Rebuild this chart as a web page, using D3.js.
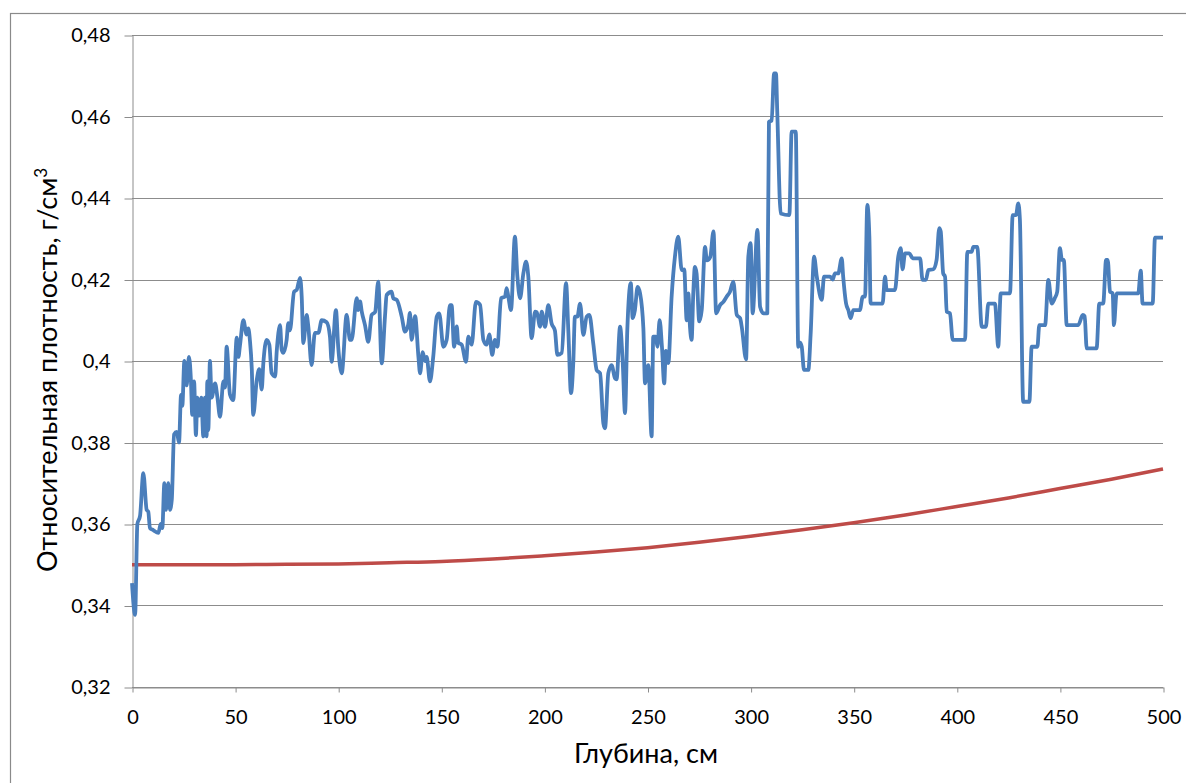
<!DOCTYPE html>
<html>
<head>
<meta charset="utf-8">
<script src="https://cdn.jsdelivr.net/npm/d3@7"></script>
<style>
  body { margin: 0; background: #fff; }
  svg { display: block; }
  text { font-family: Lato, "Open Sans", sans-serif; fill: #000; }
</style>
</head>
<body>
<svg width="1186" height="783"></svg>
<script>
// measured relative density (depth cm, g/cm3)
var measured = [
  [0,0.3455],[1.5,0.3377],[2.6,0.360],[3.9,0.362],[5.5,0.3725],[7.1,0.3635],[7.9,0.363],[8.7,0.359],
  [10.3,0.3585],[12.8,0.3578],[13.9,0.360],[14.7,0.359],[15.7,0.370],[16.5,0.3635],[17.6,0.370],[18.4,0.3635],
  [19.3,0.366],[20.4,0.382],[21.7,0.3826],[22.8,0.380],[23.8,0.3917],[24.4,0.389],[25.4,0.400],[26.5,0.394],
  [27.6,0.401],[28.6,0.395],[29.2,0.3868],[30.1,0.395],[31.0,0.3818],[31.7,0.391],[32.6,0.3866],[33.6,0.391],
  [34.6,0.3815],[35.4,0.391],[36.2,0.3815],[36.5,0.395],[37.0,0.383],[37.8,0.400],[38.6,0.391],[40.3,0.3945],
  [41.4,0.3912],[42.7,0.3863],[44.3,0.395],[45.1,0.3935],[45.9,0.4035],[47.5,0.3918],[49.1,0.3904],
  [50.8,0.4057],[51.6,0.401],[52.4,0.404],[54.0,0.410],[55.6,0.4065],[56.4,0.408],[57.2,0.405],[58.1,0.398],
  [58.8,0.3868],[60.5,0.3953],[61.7,0.398],[62.9,0.393],[63.7,0.3995],[65.3,0.4052],[66.6,0.404],[67.7,0.397],
  [69.4,0.3962],[70.2,0.4025],[71.8,0.4088],[72.6,0.4027],[73.4,0.402],[75.0,0.4052],[75.8,0.4093],[76.6,0.4075],
  [78.6,0.417],[79.9,0.4175],[81.5,0.4204],[82.3,0.4158],[83.1,0.4044],[84.7,0.4113],[85.5,0.4085],[87.1,0.399],
  [88.7,0.4069],[90.4,0.4069],[92.0,0.410],[94.4,0.4095],[96.0,0.406],[96.8,0.3998],[98.9,0.4125],[100.0,0.4035],
  [101.7,0.397],[104.1,0.4113],[105.7,0.4052],[106.5,0.4052],[109.0,0.4154],[109.7,0.4125],[110.6,0.4146],[111.4,0.4122],
  [113.0,0.4088],[114.6,0.4047],[116.2,0.4113],[117.9,0.412],[119.4,0.4195],[121.1,0.3994],[122.7,0.411],[123.5,0.4162],
  [125.9,0.417],[126.7,0.4154],[128.4,0.415],[130.8,0.4109],[132.4,0.4072],[134.0,0.409],[134.8,0.4118],[135.6,0.4052],
  [137.3,0.411],[138.9,0.4011],[139.7,0.397],[141.0,0.4022],[142.1,0.400],[142.9,0.401],[144.5,0.395],[146.1,0.4011],
  [147.8,0.4109],[149.0,0.4117],[151.0,0.4035],[152.6,0.4052],[154.2,0.4137],[155.0,0.4137],[156.2,0.4035],[157.5,0.4085],
  [158.2,0.4045],[159.9,0.404],[162.0,0.3998],[163.1,0.406],[164.7,0.404],[166.8,0.4145],[168.8,0.4138],[170.4,0.4052],
  [172.0,0.404],[173.3,0.4065],[174.7,0.4015],[176.0,0.4052],[177.2,0.4035],[179.0,0.4154],[180.9,0.4158],[181.7,0.4179],
  [182.5,0.4158],[183.8,0.4125],[185.7,0.4305],[186.9,0.4207],[188.2,0.4154],[189.8,0.4215],[191.1,0.4244],[192.2,0.4207],
  [193.8,0.4056],[195.5,0.4121],[196.3,0.412],[197.9,0.4084],[198.7,0.4121],[200.3,0.4084],[201.9,0.4137],[203.5,0.4092],
  [205.1,0.4075],[206.3,0.4015],[208.4,0.402],[210.5,0.4191],[211.6,0.4075],[212.9,0.3921],[214.0,0.3995],[214.8,0.4109],
  [216.0,0.4109],[217.3,0.4141],[218.9,0.4064],[220.5,0.4109],[221.8,0.4113],[223.7,0.4043],[225.4,0.3977],[227.0,0.397],
  [228.6,0.3847],[229.4,0.3835],[231.0,0.397],[232.6,0.399],[234.2,0.3958],[235.0,0.3955],[236.7,0.4084],[238.0,0.3995],
  [239.1,0.3872],[240.2,0.4075],[241.9,0.4191],[242.8,0.4105],[243.9,0.4125],[245.2,0.4182],[246.4,0.4166],[248.0,0.408],
  [248.8,0.3945],[250.4,0.399],[252.0,0.3815],[252.8,0.406],[254.0,0.406],[254.8,0.4035],[255.9,0.410],[257.0,0.4035],
  [258.1,0.3945],[258.9,0.4025],[260.1,0.3995],[261.7,0.4158],[263.3,0.4256],[264.9,0.4305],[266.6,0.4223],[267.8,0.4225],
  [269.0,0.410],[269.8,0.4166],[270.6,0.4084],[271.4,0.4052],[272.2,0.4166],[273.0,0.4231],[273.8,0.4215],[275.1,0.4097],
  [276.3,0.4125],[277.9,0.428],[278.8,0.4247],[280.4,0.4255],[282.0,0.4318],[283.3,0.4117],[285.2,0.4137],[286.8,0.4145],
  [288.4,0.4158],[290.0,0.417],[291.6,0.4195],[293.3,0.4113],[294.9,0.4105],[295.7,0.4084],[297.8,0.4004],[298.9,0.4256],
  [300.0,0.4289],[301.0,0.4117],[303.3,0.4322],[304.6,0.4133],[306.2,0.4117],[308.1,0.4117],[308.9,0.4587],[310.2,0.459],
  [311.4,0.4706],[312.3,0.4706],[312.9,0.4616],[314.6,0.4362],[318.8,0.4358],[319.9,0.4563],[321.9,0.4563],[323.1,0.4035],
  [324.0,0.4045],[324.8,0.4035],[325.9,0.3978],[328.0,0.3978],[329.1,0.4064],[330.8,0.4256],[332.1,0.4207],[334.5,0.415],
  [335.6,0.4207],[338.5,0.4207],[339.8,0.420],[340.9,0.4215],[342.5,0.4215],[344.2,0.4252],[344.9,0.4207],[346.3,0.4141],
  [347.4,0.4125],[348.5,0.4105],[349.8,0.4125],[353.0,0.4125],[354.4,0.4158],[355.5,0.4158],[356.6,0.4383],[357.6,0.4305],
  [358.2,0.4141],[364.0,0.4141],[365.2,0.4207],[366.0,0.4174],[370.0,0.4174],[371.6,0.4256],[372.8,0.4277],[373.7,0.4225],
  [374.9,0.4264],[377.0,0.4264],[378.6,0.4252],[382.2,0.4252],[383.4,0.4199],[385.0,0.4199],[386.2,0.4223],[388.6,0.4225],
  [390.2,0.4248],[391.5,0.4326],[392.2,0.4318],[393.4,0.4215],[394.3,0.4207],[395.1,0.4121],[396.7,0.4117],[398.0,0.4052],
  [404.0,0.4052],[405.1,0.4268],[407.2,0.4268],[408.0,0.428],[409.9,0.428],[412.1,0.4084],[414.1,0.4084],[415.3,0.4141],
  [418.5,0.4141],[420.1,0.4035],[421.3,0.4166],[425.8,0.4166],[427.1,0.4358],[428.7,0.4358],[429.8,0.4387],[430.6,0.4347],
  [432.2,0.390],[435.2,0.390],[436.3,0.4035],[439.1,0.4035],[440.0,0.4088],[442.8,0.4088],[444.4,0.4199],[446.0,0.4141],
  [447.6,0.4155],[448.7,0.417],[450.0,0.4277],[451.0,0.4248],[451.9,0.4248],[453.3,0.4088],[458.9,0.4088],[461.1,0.4113],
  [462.0,0.411],[463.0,0.4031],[467.8,0.4031],[469.1,0.4141],[471.0,0.4141],[472.4,0.4248],[473.2,0.4248],[474.3,0.417],
  [475.6,0.4166],[476.2,0.4088],[477.5,0.4166],[488.0,0.4166],[489.2,0.4222],[490.1,0.4141],[495.0,0.4141],[496.1,0.4303],
  [500,0.4303]
];

// model curve (depth cm, g/cm3)
var modelDepth = [0, 25, 50, 75, 100, 125, 150, 175, 200, 225, 250, 275, 300, 325, 350, 375, 400, 425, 450, 475, 500];
var modelDensity = [0.3500, 0.3500, 0.3500, 0.3501, 0.3502, 0.3505, 0.3508, 0.3514, 0.3522, 0.3531, 0.3542,
                    0.3555, 0.3570, 0.3586, 0.3603, 0.3622, 0.3643, 0.3664, 0.3687, 0.3710, 0.3735];

var yTicks = [0.32, 0.34, 0.36, 0.38, 0.40, 0.42, 0.44, 0.46, 0.48];
var yTickLabels = ['0,32', '0,34', '0,36', '0,38', '0,4', '0,42', '0,44', '0,46', '0,48'];
var xTicks = [0, 50, 100, 150, 200, 250, 300, 350, 400, 450, 500];

var svg = d3.select('svg');
var gridColor = '#8c8c8c';

// chart area frame
svg.append('rect')
    .attr('x', 10.5).attr('y', 13.5)
    .attr('width', 1200).attr('height', 800)
    .attr('fill', 'none').attr('stroke', '#8a8a8a').attr('stroke-width', 1.2);

var plotLeft = 132, plotRight = 1163, plotTop = 35, plotBottom = 687;

var scaleX = d3.scaleLinear().domain([0, 500]).range([plotLeft, plotRight]);
var scaleY = d3.scaleLinear().domain([0.32, 0.48]).range([plotBottom, plotTop]);

// horizontal gridlines
svg.append('g').selectAll('line')
    .data(yTicks)
    .enter()
    .append('line')
    .attr('x1', plotLeft).attr('x2', plotRight)
    .attr('y1', function(d) { return Math.round(scaleY(d)) + 0.5; })
    .attr('y2', function(d) { return Math.round(scaleY(d)) + 0.5; })
    .attr('stroke', gridColor).attr('stroke-width', 1);

// y axis
var yAxis = d3.axisLeft(scaleY)
    .tickValues(yTicks)
    .tickFormat(function(d, i) { return yTickLabels[i]; })
    .tickSizeInner(8).tickSizeOuter(0).tickPadding(14);

var gy = svg.append('g')
    .attr('transform', 'translate(' + (plotLeft + 0.5) + ',0.5)')
    .call(yAxis);
gy.selectAll('text').style('font-size', '20px');

// x axis
var xAxis = d3.axisBottom(scaleX)
    .tickValues(xTicks)
    .tickFormat(d3.format('d'))
    .tickSizeInner(5).tickSizeOuter(0).tickPadding(17);

var gx = svg.append('g')
    .attr('transform', 'translate(0.5,' + (plotBottom + 0.5) + ')')
    .call(xAxis);
gx.selectAll('text').style('font-size', '20px');

svg.selectAll('.domain, .tick line').attr('stroke', gridColor);
svg.selectAll('.tick text').attr('fill', '#000').style('font-family', 'Lato, "Open Sans", sans-serif');

// lines
var makeLine = d3.line()
    .x(function(d) { return scaleX(d[0]); })
    .y(function(d) { return scaleY(d[1]); })
    .curve(d3.curveMonotoneX);

var modelData = modelDepth.map(function(d, i) { return [d, modelDensity[i]]; });

svg.append('path')
    .datum(modelData)
    .attr('d', makeLine)
    .attr('fill', 'none')
    .attr('stroke', '#be4b48')
    .attr('stroke-width', 3.5);

svg.append('path')
    .datum(measured)
    .attr('d', makeLine)
    .attr('fill', 'none')
    .attr('stroke', '#4a7ebb')
    .attr('stroke-width', 3.8)
    .attr('stroke-linejoin', 'round');

// axis titles
svg.append('text')
    .attr('x', 646)
    .attr('y', 763)
    .attr('text-anchor', 'middle')
    .style('font-size', '27px')
    .text('Глубина, см');

var yTitle = svg.append('text')
    .attr('transform', 'translate(57,370) rotate(-90)')
    .attr('text-anchor', 'middle')
    .style('font-size', '27px');
yTitle.append('tspan').text('Относительная плотность, г/см');
yTitle.append('tspan').attr('dy', -10).style('font-size', '17px').text('3');
</script>
</body>
</html>
